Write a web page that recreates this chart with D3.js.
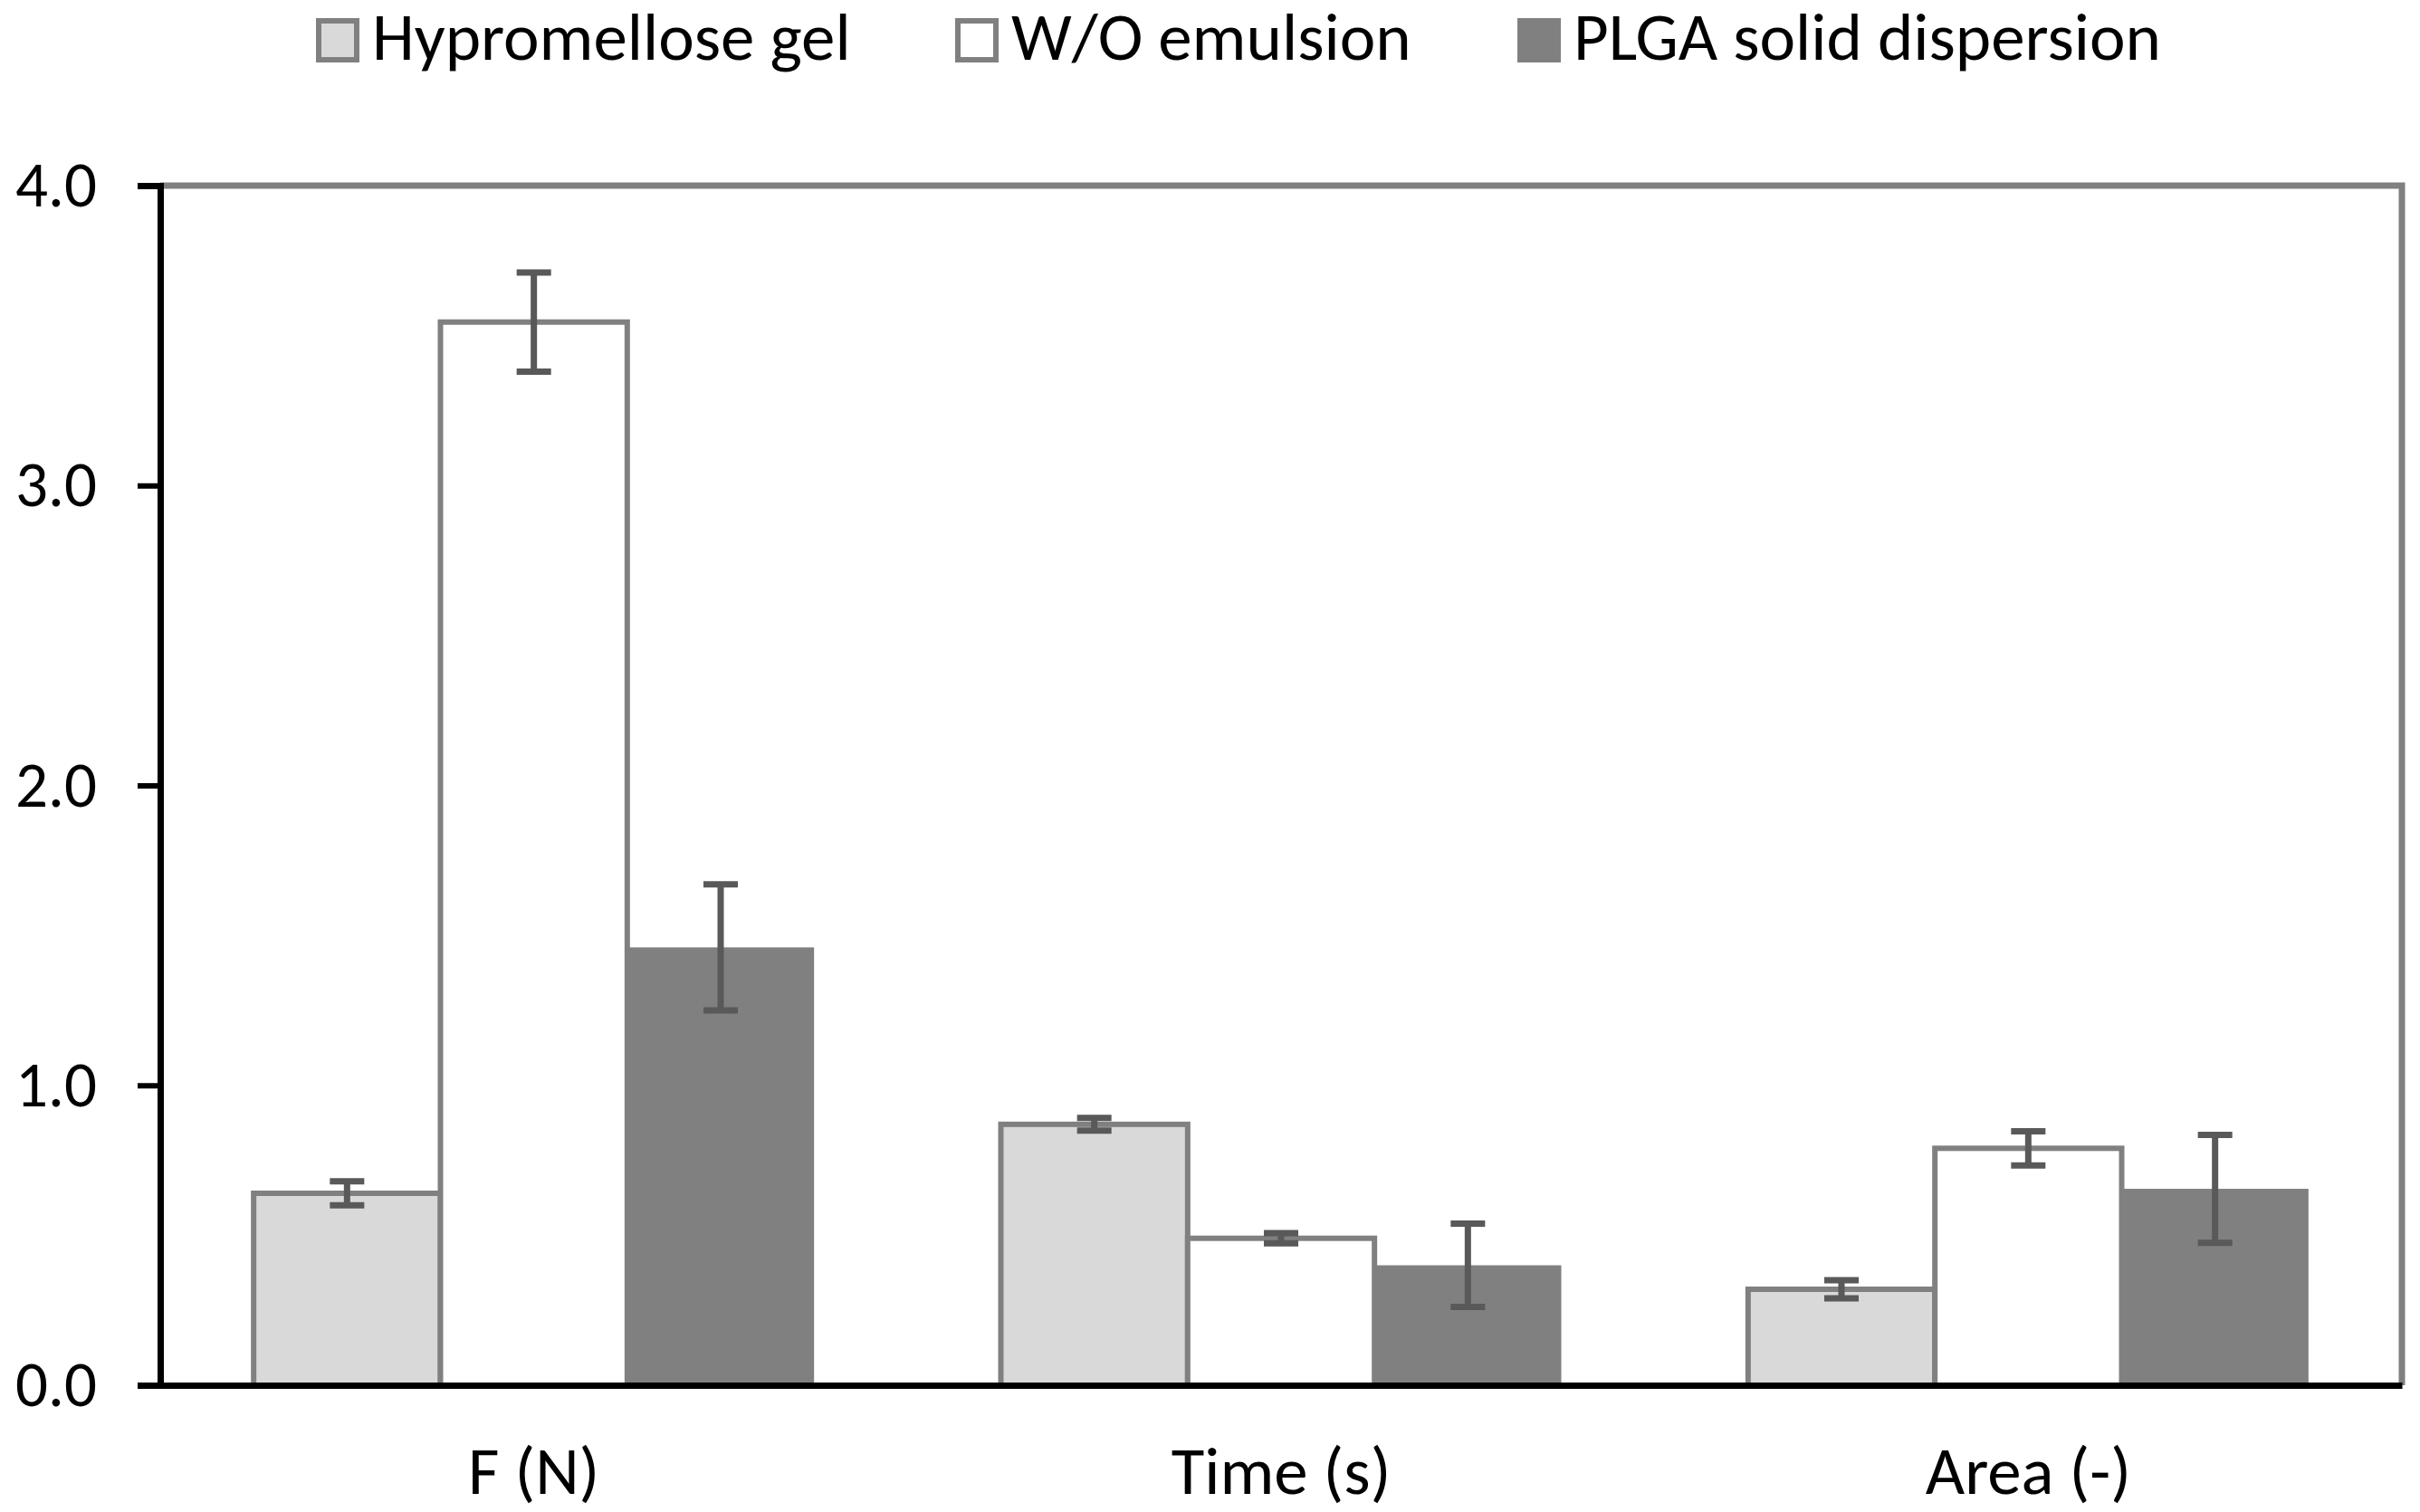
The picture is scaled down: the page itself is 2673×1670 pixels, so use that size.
<!DOCTYPE html>
<html>
<head>
  <script src="https://d3js.org/d3.v7.min.js"></script>
  <style>
    body { margin: 0; background: #fff; }
    text { font-family: "Carlito", "Liberation Sans Narrow", "DejaVu Sans Condensed", "Open Sans", sans-serif; }
  </style>
</head>
<body>
  <svg id="chart" width="2673" height="1670"></svg>
  <script>
    // data
    const categories = ["F (N)", "Time (s)", "Area (-)"];
    const seriesNames = ["Hypromellose gel", "W/O emulsion", "PLGA solid dispersion"];
    const hypromellose = [0.64, 0.87, 0.32];
    const hypromelloseErr = [0.04, 0.021, 0.03];
    const woEmulsion = [3.545, 0.49, 0.79];
    const woEmulsionErr = [0.165, 0.017, 0.057];
    const plga = [1.46, 0.40, 0.655];
    const plgaErr = [0.21, 0.139, 0.18];
    const yTicks = [0, 1, 2, 3, 4];

    const svg = d3.select("#chart");
    const margin = { top: 205, right: 20, bottom: 140, left: 177 };
    const width = 2673 - margin.left - margin.right;
    const height = 1670 - margin.top - margin.bottom;

    const fills = ["#d9d9d9", "#ffffff", "#808080"];
    const strokes = ["#808080", "#808080", "none"];

    const rows = categories.map((c, i) => ({
      cat: c,
      bars: [
        { s: seriesNames[0], v: hypromellose[i], e: hypromelloseErr[i], k: 0 },
        { s: seriesNames[1], v: woEmulsion[i], e: woEmulsionErr[i], k: 1 },
        { s: seriesNames[2], v: plga[i], e: plgaErr[i], k: 2 }
      ]
    }));

    const x0 = d3.scaleBand().domain(categories).range([0, width]);
    const x1 = d3.scaleBand().domain(seriesNames)
      .range([x0.bandwidth() * 0.125, x0.bandwidth() * 0.875]);
    const y = d3.scaleLinear().domain([0, 4]).range([height, 0]);

    const g = svg.append("g").attr("transform", `translate(${margin.left},${margin.top})`);

    // gray frame on top / right
    g.append("path")
      .attr("d", `M0,${y(4)}H${width}V${y(0)}`)
      .attr("fill", "none")
      .attr("stroke", "#808080")
      .attr("stroke-width", 7);

    // bars
    const groups = g.selectAll(".grp")
      .data(rows)
      .enter()
      .append("g")
      .attr("transform", d => `translate(${x0(d.cat)},0)`);

    groups.selectAll("rect")
      .data(d => d.bars)
      .enter()
      .append("rect")
      .attr("x", d => x1(d.s))
      .attr("y", d => y(d.v))
      .attr("width", x1.bandwidth())
      .attr("height", d => y(0) - y(d.v))
      .attr("fill", d => fills[d.k])
      .attr("stroke", d => strokes[d.k])
      .attr("stroke-width", 6);

    // error bars
    const cap = 19;
    groups.selectAll(".err")
      .data(d => d.bars)
      .enter()
      .append("path")
      .attr("d", d => {
        const cx = x1(d.s) + x1.bandwidth() / 2;
        const yt = y(d.v + d.e), yb = y(d.v - d.e);
        return `M${cx - cap},${yt}H${cx + cap}M${cx},${yt}V${yb}M${cx - cap},${yb}H${cx + cap}`;
      })
      .attr("fill", "none")
      .attr("stroke", "#595959")
      .attr("stroke-width", 7);

    // y axis
    const yAxis = g.append("g")
      .call(d3.axisLeft(y).tickValues(yTicks).tickFormat(d3.format(".1f")).tickSize(25).tickPadding(45));
    yAxis.select(".domain").attr("stroke", "#000").attr("stroke-width", 7);
    yAxis.selectAll(".tick line").attr("stroke", "#000").attr("stroke-width", 6);
    yAxis.selectAll(".tick text").attr("font-size", 71).attr("fill", "#000");

    // x axis
    const xAxis = g.append("g")
      .attr("transform", `translate(0,${height})`)
      .call(d3.axisBottom(x0).tickSize(0));
    xAxis.select(".domain").attr("stroke", "#000").attr("stroke-width", 7);
    xAxis.selectAll(".tick text")
      .attr("y", 120)
      .attr("dy", 0)
      .attr("font-size", 75)
      .attr("fill", "#000");

    // legend
    const legendX = [349, 1055, 1676];
    const legend = svg.append("g")
      .selectAll("g")
      .data(seriesNames)
      .enter()
      .append("g")
      .attr("transform", (d, i) => `translate(${legendX[i]},20)`);
    legend.append("rect")
      .attr("x", 3).attr("y", 3)
      .attr("width", 42).attr("height", 43)
      .attr("fill", (d, i) => fills[i])
      .attr("stroke", "#808080")
      .attr("stroke-width", 6);
    legend.append("text")
      .attr("x", 62)
      .attr("y", 46)
      .attr("font-size", 75)
      .attr("fill", "#000")
      .text(d => d);
  </script>
</body>
</html>
